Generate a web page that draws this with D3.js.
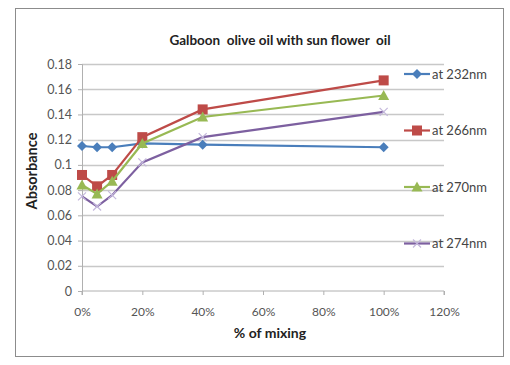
<!DOCTYPE html>
<html>
<head>
<meta charset="utf-8">
<script src="https://cdn.jsdelivr.net/npm/d3@7"></script>
<style>
  body { margin: 0; background: #fff; }
  text { font-family: Lato, "Open Sans", sans-serif; white-space: pre; }
</style>
</head>
<body>
<div id="chart"></div>
<script>
// data
const mixing = [0, 0.05, 0.10, 0.20, 0.40, 1.00];
const at232 = [0.115, 0.114, 0.114, 0.117, 0.116, 0.114];
const at266 = [0.092, 0.083, 0.092, 0.122, 0.144, 0.167];
const at270 = [0.084, 0.077, 0.087, 0.117, 0.138, 0.155];
const at274 = [0.075, 0.067, 0.076, 0.102, 0.122, 0.142];
const seriesNames = ["at 232nm", "at 266nm", "at 270nm", "at 274nm"];
const yTicks = [0, 0.02, 0.04, 0.06, 0.08, 0.1, 0.12, 0.14, 0.16, 0.18];
const xTicks = [0, 0.2, 0.4, 0.6, 0.8, 1.0, 1.2];

const series = [
    {name: seriesNames[0], values: at232, color: "#4a7ebb", shape: "diamond"},
    {name: seriesNames[1], values: at266, color: "#be4b48", shape: "square"},
    {name: seriesNames[2], values: at270, color: "#98b954", shape: "triangle"},
    {name: seriesNames[3], values: at274, color: "#7d60a0", shape: "cross"}
];

const width = 510, height = 365;
const margin = {top: 64, left: 82, right: 66, bottom: 74};

const svg = d3.select("#chart").append("svg")
    .attr("width", width)
    .attr("height", height);

// chart frame
svg.append("rect")
    .attr("x", 15.5).attr("y", 8.5)
    .attr("width", 488).attr("height", 348)
    .attr("fill", "#fff")
    .attr("stroke", "#8c8c8c");

const x = d3.scaleLinear().domain([0, 1.2]).range([margin.left, width - margin.right]);
const y = d3.scaleLinear().domain([0, 0.18]).range([height - margin.bottom, margin.top]);

// gridlines
svg.append("g")
    .selectAll("line")
    .data(yTicks.slice(1))
    .join("line")
    .attr("x1", x(0)).attr("x2", x(1.2))
    .attr("y1", d => Math.round(y(d)) + 0.5)
    .attr("y2", d => Math.round(y(d)) + 0.5)
    .attr("stroke", "#c8c8c8")
    .attr("stroke-width", 1.5);

// y axis
const yAxis = svg.append("g")
    .attr("transform", `translate(${x(0)},0)`)
    .call(d3.axisLeft(y).tickValues(yTicks).tickSize(4).tickPadding(6)
        .tickFormat(d => d === 0 ? "0" : d3.format("")(+d.toFixed(2))));
yAxis.selectAll("path, line").attr("stroke", "#b0b0b0");
yAxis.selectAll("text").attr("font-size", 12.5).attr("fill", "#555");

// x axis
const xAxis = svg.append("g")
    .attr("transform", `translate(0,${y(0)})`)
    .call(d3.axisBottom(x).tickValues(xTicks).tickSize(4).tickPadding(12)
        .tickFormat(d3.format(".0%")));
xAxis.select(".domain").attr("d", `M${x(0)},4V0H${x(1.2)}V4`);
xAxis.selectAll("path, line").attr("stroke", "#b0b0b0");
xAxis.selectAll("text").attr("font-size", 12).attr("fill", "#555");

// titles
svg.append("text")
    .attr("x", 280).attr("y", 45)
    .attr("text-anchor", "middle")
    .attr("font-size", 13.5).attr("font-weight", "bold").attr("fill", "#222")
    .text("Galboon  olive oil with sun flower  oil");

svg.append("text")
    .attr("x", 270).attr("y", 338)
    .attr("text-anchor", "middle")
    .attr("font-size", 14).attr("font-weight", "bold").attr("fill", "#222")
    .text("% of mixing");

svg.append("text")
    .attr("transform", `translate(37,171) rotate(-90)`)
    .attr("text-anchor", "middle")
    .attr("font-size", 14.5).attr("font-weight", "bold").attr("fill", "#222")
    .text("Absorbance");

// marker drawing
function drawMarker(g, shape, color) {
    if (shape === "diamond") {
        g.append("path").attr("d", "M0,-5L5,0L0,5L-5,0Z").attr("fill", color);
    } else if (shape === "square") {
        g.append("rect").attr("x", -5).attr("y", -5).attr("width", 10).attr("height", 10)
            .attr("fill", color);
    } else if (shape === "triangle") {
        g.append("path").attr("d", "M0,-5.5L5.5,4.5L-5.5,4.5Z").attr("fill", color);
    } else {
        g.append("path").attr("d", "M-4,-4L4,4M-4,4L4,-4")
            .attr("stroke", "#c4b8dc").attr("stroke-width", 1.2);
    }
}

const line = d3.line()
    .x((d, i) => x(mixing[i]))
    .y(d => y(d));

series.forEach(s => {
    svg.append("path")
        .datum(s.values)
        .attr("fill", "none")
        .attr("stroke", s.color)
        .attr("stroke-width", 2.2)
        .attr("d", line);

    s.values.forEach((v, i) => {
        const g = svg.append("g").attr("transform", `translate(${x(mixing[i])},${y(v)})`);
        drawMarker(g, s.shape, s.color);
    });
});

// legend
const legend = svg.append("g").attr("transform", "translate(404,74)");
series.forEach((s, i) => {
    const g = legend.append("g").attr("transform", `translate(0,${i * 56.5})`);
    g.append("line").attr("x1", 0).attr("x2", 26).attr("y1", 0).attr("y2", 0)
        .attr("stroke", s.color).attr("stroke-width", 2.2);
    const m = g.append("g").attr("transform", "translate(13,0)");
    drawMarker(m, s.shape, s.color);
    g.append("text")
        .attr("x", 28).attr("y", 4.5)
        .attr("font-size", 13).attr("fill", "#444")
        .text(s.name);
});
</script>
</body>
</html>
